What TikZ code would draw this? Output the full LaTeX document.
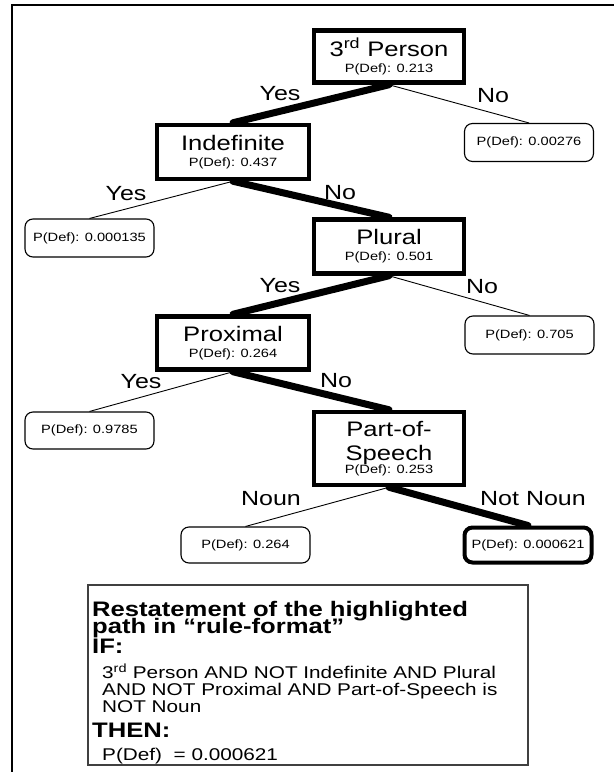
\documentclass[tikz,border=0pt]{standalone}
\usepackage{fontspec}
\setmainfont[FakeStretch=1.22]{Liberation Sans}
\newcommand{\ttl}[1]{{\fontsize{21}{16}\selectfont #1}}
\newcommand{\rb}[1]{{\fontsize{21}{17}\selectfont\bfseries #1}}
\newcommand{\boxfont}{\fontsize{12}{16}\selectfont\lineskiplimit=-100pt\relax}
\newcommand{\rulefont}{\fontsize{17}{17}\selectfont\lineskiplimit=-100pt\relax}
\begin{document}
\begin{tikzpicture}[x=1pt,y=-1pt,
  dbox/.style={draw, line width=4.5pt, inner sep=0pt, align=center, font=\boxfont},
  leaf/.style={draw, rounded corners=8pt, line width=1.1pt, inner sep=0pt,
    minimum width=129pt, minimum height=38pt, font=\fontsize{12}{14}\selectfont},
  hleaf/.style={leaf, line width=4pt, minimum width=127pt, minimum height=35pt},
  hot/.style={line width=7pt, line cap=round},
  cold/.style={line width=0.9pt},
  elab/.style={anchor=base, inner sep=0pt, font=\fontsize{20.5}{24}\selectfont},
  rulebox/.style={draw=black!75, line width=1.2pt, inner sep=0pt},
  ruletext/.style={anchor=north west, inner sep=0pt, align=left, font=\rulefont}]
\useasboundingbox (0,0) rectangle (614,772);
\fill[white] (0,0) rectangle (614,772);
% outer frame (top and left edges)
\draw[line width=2.5pt] (12,772) -- (12,5) -- (614,5);

% decision nodes
\node[dbox, minimum width=150pt, minimum height=52pt] (A) at (389,56.5)
  {\ttl{3\textsuperscript{rd} Person}\\P(Def): 0.213};
\node[dbox, minimum width=152pt, minimum height=54pt] (B) at (233,152)
  {\ttl{Indefinite}\\P(Def): 0.437};
\node[dbox, minimum width=150pt, minimum height=54pt] (P) at (389,246.5)
  {\ttl{Plural}\\P(Def): 0.501};
\node[dbox, minimum width=152pt, minimum height=53pt] (X) at (233,343)
  {\ttl{Proximal}\\P(Def): 0.264};
\node[dbox, minimum width=150pt, minimum height=73pt] (S) at (389,448.5)
  {\ttl{Part-of-}\\[8pt]\ttl{Speech}\\[-3.5pt]P(Def): 0.253};

% leaves
\node[leaf] (L1) at (529,142.5) {P(Def):\hspace{0.45em}0.00276};
\node[leaf] (L2) at (89.5,238) {P(Def):\hspace{0.45em}0.000135};
\node[leaf] (L3) at (529.5,335) {P(Def):\hspace{0.45em}0.705};
\node[leaf, minimum height=37pt] (L4) at (89.5,430.5) {P(Def):\hspace{0.45em}0.9785};
\node[leaf, minimum height=36pt] (L5) at (245.5,545) {P(Def):\hspace{0.45em}0.264};
\node[hleaf] (L6) at (528,545) {P(Def):\hspace{0.45em}0.000621};

% connectors
\draw[hot] (A.south) -- (B.north);
\draw[cold] (A.south) -- (L1.north);
\draw[cold] (B.south) -- (L2.north);
\draw[hot] (B.south) -- (P.north);
\draw[hot] (P.south) -- (X.north);
\draw[cold] (P.south) -- (L3.north);
\draw[cold] (X.south) -- (L4.north);
\draw[hot] (X.south) -- (S.north);
\draw[cold] (S.south) -- (L5.north);
\draw[hot] (S.south) -- (L6.north);

% edge labels
\node[elab] (yA) at (280,100) {Yes};
\node[elab] (nA) at (493,102) {No};
\node[elab] (yB) at (126,200) {Yes};
\node[elab] (nB) at (340,199) {No};
\node[elab] (yP) at (280,292) {Yes};
\node[elab] (nP) at (482,293) {No};
\node[elab] (yX) at (141,388) {Yes};
\node[elab] (nX) at (336,387) {No};
\node[elab] (nS) at (271,505) {Noun};
\node[elab] (mS) at (533,505) {Not Noun};

% rule box
\node[rulebox, minimum width=440pt, minimum height=180pt] (R) at (308,675) {};
\node[ruletext] (RT) at (92,600.7) {%
\rb{Restatement of the highlighted}\\[0.5pt]
\rb{path in “rule-format”}\\[3pt]
\rb{IF:}\\[8pt]
\hspace*{10pt}3\textsuperscript{rd} Person AND NOT Indefinite AND Plural\\
\hspace*{10pt}AND NOT Proximal AND Part-of-Speech is\\
\hspace*{10pt}NOT Noun\\[8pt]
\rb{THEN:}\\[6pt]
\hspace*{10pt}P(Def)\ \ = 0.000621};
\end{tikzpicture}
\end{document}
